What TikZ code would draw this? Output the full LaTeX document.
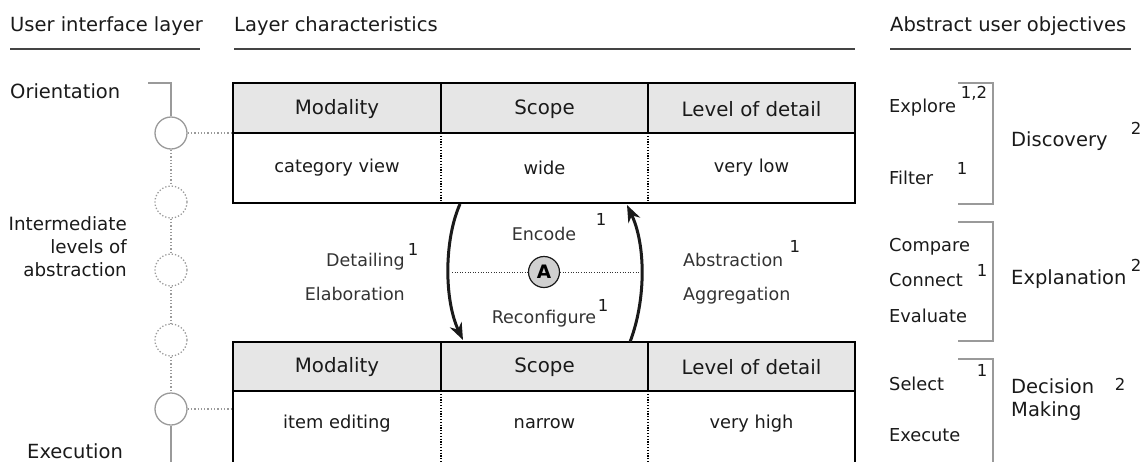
\documentclass[tikz,border=0pt]{standalone}
\usepackage{fontspec}
\setmainfont{DejaVu Sans}
\usetikzlibrary{arrows.meta}
\definecolor{txt}{HTML}{1A1A1A}
\definecolor{midtxt}{HTML}{333333}
\definecolor{lane}{HTML}{9A9A9A}
\definecolor{hdrfill}{HTML}{E6E6E6}
\definecolor{afill}{HTML}{D0D0D0}
\definecolor{rule}{HTML}{444444}
\begin{document}
\begin{tikzpicture}[x=1pt,y=-1pt,
  hd/.style={font=\fontsize{19.5}{23}\selectfont, text=txt, inner sep=0pt},
  cellhead/.style={font=\fontsize{19.8}{23}\selectfont, text=txt, inner sep=0pt},
  cellbody/.style={font=\fontsize{17.8}{21}\selectfont, text=txt, inner sep=0pt},
  lbl/.style={font=\fontsize{17.5}{20}\selectfont, text=midtxt, inner sep=0pt},
  obj/.style={font=\fontsize{17.8}{21}\selectfont, text=txt, inner sep=0pt},
  grp/.style={font=\fontsize{19.5}{23}\selectfont, text=txt, inner sep=0pt},
  supnum/.style={font=\fontsize{16.5}{18}\selectfont, text=txt, inner sep=0pt},
  headrule/.style={draw=rule, line width=1.5pt},
  tableframe/.style={draw=black, line width=2pt},
  solidsep/.style={draw=black, line width=1.5pt},
  dotsep/.style={draw=black, line width=1.2pt, dash pattern=on 1.2pt off 1.6pt},
  laneline/.style={draw=lane, line width=1.3pt},
  lanedot/.style={draw=lane, line width=1.3pt, dash pattern=on 1.3pt off 2pt},
  lanecirc/.style={circle, draw=lane, line width=1.3pt, minimum size=32pt, inner sep=0pt},
  lanecircdot/.style={circle, draw=lane, line width=1.3pt, dash pattern=on 1.3pt off 2pt, minimum size=32pt, inner sep=0pt},
  bracketline/.style={draw=lane, line width=1.6pt},
  bigarrow/.style={draw=txt, line width=3pt, -{Stealth[length=17pt,width=13pt]}},
  aline/.style={draw=midtxt, line width=1pt, dash pattern=on 1pt off 1.6pt},
  acirc/.style={circle, fill=afill, draw=txt, line width=1.2pt, minimum size=31pt, inner sep=0pt, font=\bfseries\fontsize{18.5}{20}\selectfont}
]
\useasboundingbox (0,0) rectangle (1143,461);
\clip (0,0) rectangle (1143,461);

% headers
\node[hd, anchor=mid west] (h1) at (10,29) {User interface layer};
\node[hd, anchor=mid west] (h2) at (234,29) {Layer characteristics};
\node[hd, anchor=mid west] (h3) at (890,29) {Abstract user objectives};
\coordinate (r1a) at (10,49); \coordinate (r1b) at (200,49);
\coordinate (r2a) at (234,49); \coordinate (r2b) at (855,49);
\coordinate (r3a) at (890,49); \coordinate (r3b) at (1131,49);
\draw[headrule] (r1a) -- (r1b);
\draw[headrule] (r2a) -- (r2b);
\draw[headrule] (r3a) -- (r3b);

% left column labels
\node[hd, anchor=mid west] (orient) at (10,96) {Orientation};
\node[hd, font=\fontsize{18.3}{23}\selectfont, anchor=mid east, align=right] (inter) at (127,274) {Intermediate\\levels of\\abstraction};
\node[hd, anchor=mid west] (exec) at (27,456) {Execution};

% top table
\fill[hdrfill] (233,83) rectangle (855,133);
\draw[solidsep] (233,133) -- (855,133);
\draw[solidsep] (441,83) -- (441,133);
\draw[solidsep] (648,83) -- (648,133);
\draw[dotsep] (441,133) -- (441,203);
\draw[dotsep] (648,133) -- (648,203);
\draw[tableframe] (233,83) rectangle (855,203);
\node[cellhead] (t1h1) at (337,109) {Modality};
\node[cellhead] (t1h2) at (544.5,109) {Scope};
\node[cellhead] (t1h3) at (751.5,109) {Level of detail};
\node[cellbody] (t1b1) at (337,168) {category view};
\node[cellbody] (t1b2) at (544.5,168) {wide};
\node[cellbody] (t1b3) at (751.5,168) {very low};

% bottom table
\fill[hdrfill] (233,342) rectangle (855,391);
\draw[solidsep] (233,391) -- (855,391);
\draw[solidsep] (441,342) -- (441,391);
\draw[solidsep] (648,342) -- (648,391);
\draw[dotsep] (441,391) -- (441,470);
\draw[dotsep] (648,391) -- (648,470);
\draw[tableframe] (233,470) -- (233,342) -- (855,342) -- (855,470);
\node[cellhead] (t2h1) at (337,367) {Modality};
\node[cellhead] (t2h2) at (544.5,367) {Scope};
\node[cellhead] (t2h3) at (751.5,367) {Level of detail};
\node[cellbody] (t2b1) at (337,424) {item editing};
\node[cellbody] (t2b2) at (544.5,424) {narrow};
\node[cellbody] (t2b3) at (751.5,424) {very high};

% left lane
\node[lanecirc] (c1) at (171,133) {};
\node[lanecircdot] (c2) at (171,202) {};
\node[lanecircdot] (c3) at (171,270) {};
\node[lanecircdot] (c4) at (171,340) {};
\node[lanecirc] (c5) at (171,409) {};
\coordinate (laneTopL) at (148,83);
\coordinate (laneTop) at (171,83);
\coordinate (laneBot) at (171,470);
\coordinate (t1join) at (233,133);
\coordinate (t2join) at (233,409);
\draw[laneline] (laneTopL) -- (laneTop) -- (c1.north);
\draw[lanedot] (c1.south) -- (c2.north);
\draw[lanedot] (c2.south) -- (c3.north);
\draw[lanedot] (c3.south) -- (c4.north);
\draw[lanedot] (c4.south) -- (c5.north);
\draw[laneline] (c5.south) -- (laneBot);
\draw[lanedot] (c1.east) -- (t1join);
\draw[lanedot] (c5.east) -- (t2join);

% middle: arrows and A
\coordinate (la) at (460,204);
\coordinate (lb) at (463,340);
\coordinate (ra) at (630,342);
\coordinate (rb) at (627,205);
\draw[bigarrow] (la) .. controls (444,240) and (444,300) .. (lb);
\draw[bigarrow] (ra) .. controls (646,300) and (646,245) .. (rb);
\node[acirc] (A) at (544,272) {A};
\coordinate (aL) at (452,272);
\coordinate (aR) at (639,272);
\draw[aline] (aL) -- (A);
\draw[aline] (A) -- (aR);

\node[lbl] (encode) at (544,234) {Encode};
\node[supnum] (encodes) at (601,219) {1};
\node[lbl] (reconf) at (544,319) {Reconfigure};
\node[supnum] (reconfs) at (603,305) {1};
\node[lbl, anchor=mid east] (detail) at (405,264) {Detailing};
\node[supnum] (details) at (413,249) {1};
\node[lbl, anchor=mid east] (elab) at (405,298) {Elaboration};
\node[lbl, anchor=mid west] (abstr) at (683,264) {Abstraction};
\node[supnum, anchor=west] (abstrs) at ([xshift=6pt,yshift=14pt]abstr.east) {1};
\node[lbl, anchor=mid west] (aggr) at (683,298) {Aggregation};

% right side objectives
\draw[bracketline] (958,83) -- (993,83) -- (993,204) -- (958,204);
\draw[bracketline] (958,222) -- (993,222) -- (993,341) -- (958,341);
\draw[bracketline] (958,359) -- (993,359) -- (993,470);

\node[obj, anchor=mid west] (explore) at (889,110) {Explore};
\node[supnum] (explores) at (974,93) {1,2};
\node[obj, anchor=mid west] (filter) at (889,182) {Filter};
\node[supnum] (filters) at (962,168) {1};
\node[grp, anchor=mid west] (disc) at (1011,144) {Discovery};
\node[supnum] (discs) at (1136,128) {2};

\node[obj, anchor=mid west] (compare) at (889,249) {Compare};
\node[obj, anchor=mid west] (connect) at (889,284) {Connect};
\node[obj, anchor=mid west] (evaluate) at (889,320) {Evaluate};
\node[supnum] (cces) at (982,270) {1};
\node[grp, anchor=mid west] (expl) at (1011,282) {Explanation};
\node[supnum] (expls) at (1136,265) {2};

\node[obj, anchor=mid west] (select) at (889,388) {Select};
\node[supnum] (selects) at (982,370) {1};
\node[obj, anchor=mid west] (execute) at (889,439) {Execute};
\node[grp, anchor=mid west, align=left] (dm) at (1011,414) {Decision\\Making};
\node[supnum] (dms) at (1120,384) {2};
\end{tikzpicture}
\end{document}
